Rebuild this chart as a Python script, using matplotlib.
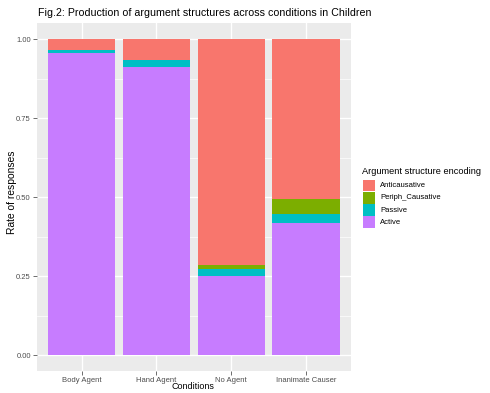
import matplotlib
matplotlib.use("Agg")
import matplotlib.pyplot as plt
from matplotlib.patches import Rectangle
import numpy as np

plt.rcParams['font.family'] = ['Liberation Sans', 'DejaVu Sans']

conditions = ["Body Agent", "Hand Agent", "No Agent", "Inanimate Causer"]
active = [0.957, 0.912, 0.249, 0.419]
passive = [0.010, 0.021, 0.025, 0.027]
periph_causative = [0.000, 0.000, 0.011, 0.047]
anticausative = [0.033, 0.067, 0.715, 0.507]

series_names = ["Anticausative", "Periph_Causative", "Passive", "Active"]
series_colors = ["#F8766D", "#7CAE00", "#00BFC4", "#C77CFF"]
y_ticks = [0.0, 0.25, 0.5, 0.75, 1.0]
y_tick_labels = ["0.00", "0.25", "0.50", "0.75", "1.00"]

W, H = 490, 393
fig = plt.figure(figsize=(W / 100, H / 100), dpi=100)
fig.patch.set_facecolor("white")

left, right, top, bottom = 36.7, 351, 23.3, 371
ax = fig.add_axes([left / W, 1 - bottom / H, (right - left) / W, (bottom - top) / H])
ax.set_facecolor("#EBEBEB")
for s in ax.spines.values():
    s.set_visible(False)

x = np.arange(1, len(conditions) + 1)
stack_order = [("Active", active), ("Passive", passive),
               ("Periph_Causative", periph_causative), ("Anticausative", anticausative)]
color_map = dict(zip(series_names, series_colors))
base = np.zeros(len(conditions))
for name, vals in stack_order:
    vals = np.array(vals)
    ax.bar(x, vals, bottom=base, width=0.9, color=color_map[name], linewidth=0, zorder=3)
    base = base + vals

ax.set_xlim(0.4, 4.6)
ax.set_ylim(-0.05, 1.05)
ax.set_yticks(y_ticks)
ax.set_yticklabels(y_tick_labels)
ax.set_yticks([0.125, 0.375, 0.625, 0.875], minor=True)
ax.set_xticks(x)
ax.set_xticklabels(conditions)
ax.grid(True, which="major", color="white", linewidth=1.0, zorder=1)
ax.grid(True, which="minor", axis="y", color="white", linewidth=0.5, zorder=1)
ax.tick_params(axis="both", which="major", length=2.7, width=0.5, color="#333333",
               labelsize=5.5, labelcolor="#4D4D4D", pad=1.5)
ax.tick_params(axis="both", which="minor", length=0)
ax.set_axisbelow(True)

ax.set_xlabel("Conditions", fontsize=6.5, color="black")
ax.set_ylabel("Rate of responses", fontsize=7.4, color="black")
ax.xaxis.set_label_coords((193 - left) / (right - left), -(386.5 - bottom) / (bottom - top))
ax.yaxis.set_label_coords(-(left - 12) / (right - left), (bottom - 192) / (bottom - top))
ax.xaxis.label.set_va("center")
ax.yaxis.label.set_va("center")

fig.text(38 / W, 1 - 13 / H, "Fig.2: Production of argument structures across conditions in Children",
         fontsize=7.7, ha="left", va="center", color="black")

# legend
fig.text(362 / W, 1 - 171.7 / H, "Argument structure encoding", fontsize=6.7,
         ha="left", va="center", color="black")
row_y = [185.7, 197.8, 210, 222.1]
for name, col, ry in zip(series_names, series_colors, row_y):
    fig.add_artist(Rectangle(((363) / W, 1 - (ry + 5.8) / H), 11.5 / W, 11.6 / H,
                             transform=fig.transFigure, facecolor=col, edgecolor="none"))
    fig.text(380 / W, 1 - ry / H, name, fontsize=5.5, ha="left", va="center", color="black")

fig.savefig("out.png", dpi=100)
